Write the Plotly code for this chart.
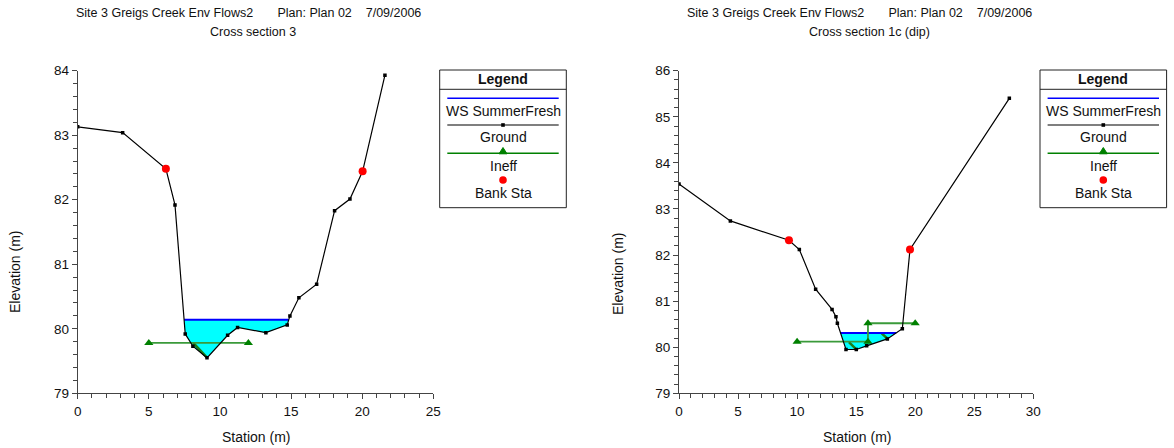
import plotly.graph_objects as go

# ---------------- data ----------------
# Cross section 3
xs3_station = [0.0, 3.16, 6.2, 6.84, 7.56, 8.1, 9.09, 10.54, 11.24, 13.23, 14.73, 14.92, 15.55, 16.8, 18.06, 19.14, 20.03, 21.6]
xs3_elev = [83.13, 83.04, 82.48, 81.92, 79.92, 79.73, 79.55, 79.90, 80.02, 79.94, 80.06, 80.20, 80.48, 80.69, 81.83, 82.01, 82.44, 83.93]
xs3_ws = 80.14
xs3_bank_x = [6.2, 20.03]
xs3_bank_y = [82.48, 82.44]
xs3_ineff_x = [5.0, 12.0]
xs3_ineff_y = [79.78, 79.78]
xs3_hatch_x = [8.12, 9.06]
xs3_hatch_y = [79.78, 79.56]

# Cross section 1c (dip)
xs1c_station = [0.0, 4.35, 9.31, 10.19, 11.57, 12.96, 13.29, 13.41, 14.14, 15.01, 15.89, 17.64, 18.91, 19.56, 27.97]
xs1c_elev = [83.54, 82.74, 82.32, 82.12, 81.26, 80.82, 80.66, 80.52, 79.95, 79.95, 80.03, 80.18, 80.40, 82.12, 85.40]
xs1c_ws = 80.31
xs1c_bank_x = [9.31, 19.56]
xs1c_bank_y = [82.32, 82.12]
xs1c_ineff_x = [10.0, 16.0, 16.0, 20.0]
xs1c_ineff_y = [80.12, 80.12, 80.52, 80.52]
xs1c_hatch_x = [14.39, 14.99, None, 17.16, 17.64]
xs1c_hatch_y = [80.11, 79.96, None, 80.30, 80.19]

title_line1 = "Site 3 Greigs Creek Env Flows2       Plan: Plan 02    7/09/2006"
titles_line2 = ["Cross section 3", "Cross section 1c (dip)"]
legend_labels = ["WS SummerFresh", "Ground", "Ineff", "Bank Sta"]

# ---------------- helpers ----------------
W, H = 1174, 448
FONT = "Liberation Sans, Arial, sans-serif"


def px(x):
    return x / W


def py(y):
    return 1 - y / H


def wet_polygon(st, el, ws):
    i0 = min(range(len(el)), key=lambda i: el[i])
    i = i0
    while i > 0 and el[i - 1] < ws:
        i -= 1
    a, b = i - 1, i
    t = (el[a] - ws) / (el[a] - el[b])
    xl = st[a] + t * (st[b] - st[a])
    left_idx = i
    j = i0
    while j < len(el) - 1 and el[j + 1] < ws:
        j += 1
    a, b = j, j + 1
    t = (ws - el[a]) / (el[b] - el[a])
    xr = st[a] + t * (st[b] - st[a])
    right_idx = j
    px_ = [xl] + st[left_idx:right_idx + 1] + [xr, xl]
    py_ = [ws] + el[left_idx:right_idx + 1] + [ws, ws]
    return px_, py_, xl, xr


fig = go.Figure()

sets = [
    (xs3_station, xs3_elev, xs3_ws, xs3_bank_x, xs3_bank_y, xs3_ineff_x, xs3_ineff_y, xs3_hatch_x, xs3_hatch_y, "x", "y"),
    (xs1c_station, xs1c_elev, xs1c_ws, xs1c_bank_x, xs1c_bank_y, xs1c_ineff_x, xs1c_ineff_y, xs1c_hatch_x, xs1c_hatch_y, "x2", "y2"),
]

for st, el, ws, bx, by, ix, iy, hx, hy, xa, ya in sets:
    fx, fy, xl, xr = wet_polygon(st, el, ws)
    fig.add_trace(go.Scatter(x=fx, y=fy, mode="lines", fill="toself", fillcolor="#00ffff",
                             line=dict(width=0), xaxis=xa, yaxis=ya, showlegend=False, hoverinfo="skip"))
    fig.add_trace(go.Scatter(x=hx, y=hy, mode="lines", line=dict(color="#1a7f1a", width=2.5),
                             xaxis=xa, yaxis=ya, showlegend=False, connectgaps=False))
    fig.add_trace(go.Scatter(x=[xl, xr], y=[ws, ws], mode="lines", line=dict(color="#0000ff", width=2),
                             xaxis=xa, yaxis=ya, showlegend=False, name=legend_labels[0]))
    fig.add_trace(go.Scatter(x=ix, y=iy, mode="lines+markers",
                             line=dict(color="#3a9a3a", width=1.8),
                             marker=dict(symbol="triangle-up", size=8, color="#008000"),
                             xaxis=xa, yaxis=ya, showlegend=False, name=legend_labels[2]))
    fig.add_trace(go.Scatter(x=st, y=el, mode="lines+markers", line=dict(color="black", width=1.2),
                             marker=dict(symbol="square", size=3.5, color="black"),
                             xaxis=xa, yaxis=ya, showlegend=False, name=legend_labels[1]))
    fig.add_trace(go.Scatter(x=bx, y=by, mode="markers", marker=dict(symbol="circle", size=8, color="#ff0000"),
                             xaxis=xa, yaxis=ya, showlegend=False, name=legend_labels[3]))

TICKC = "#444444"
axis_common = dict(
    showgrid=False, zeroline=False, showline=True, linecolor=TICKC, linewidth=1,
    ticks="outside", ticklen=5, tickcolor=TICKC, tickwidth=1,
    tickfont=dict(family=FONT, size=13.5, color="#111111"),
    mirror=False,
)


def minor(d):
    return dict(dtick=d, ticks="outside", ticklen=4, tickcolor=TICKC, tickwidth=1, showgrid=False)


plot_top, plot_bot = 70.7, 393.3
fig.update_layout(
    template="none",
    width=W, height=H, margin=dict(l=0, r=0, t=0, b=0),
    paper_bgcolor="white", plot_bgcolor="white", showlegend=False,
    xaxis=dict(domain=[px(77.7), px(433.3)], range=[0, 25], tick0=0, dtick=5, anchor="y",
               minor=minor(1), **axis_common),
    yaxis=dict(domain=[py(plot_bot), py(plot_top)], range=[79, 84], tick0=79, dtick=1, anchor="x",
               minor=minor(0.2), **axis_common),
    xaxis2=dict(domain=[px(679), px(1033.3)], range=[0, 30], tick0=0, dtick=5, anchor="y2",
                minor=minor(1), **axis_common),
    yaxis2=dict(domain=[py(plot_bot), py(plot_top)], range=[79, 86], tick0=79, dtick=1, anchor="x2",
                minor=minor(0.2), **axis_common),
)

annotations = []
shapes = []


def text(x, y, s, size=12.5, bold=False, angle=0):
    annotations.append(dict(x=px(x), y=py(y), xref="paper", yref="paper", text=(f"<b>{s}</b>" if bold else s),
                            showarrow=False, xanchor="center", yanchor="middle", textangle=angle,
                            font=dict(family=FONT, size=size, color="#111111")))


# Titles
text(248, 13, title_line1.replace(" ", "&nbsp;"), size=12.5)
text(252.5, 32, titles_line2[0], size=12.5)
text(859.7, 13, title_line1.replace(" ", "&nbsp;"), size=12.5)
text(869.7, 32, titles_line2[1], size=12.5)

# Axis titles
text(255.8, 436.7, "Station (m)", size=14)
text(856.7, 436.7, "Station (m)", size=14)
text(15, 272, "Elevation (m)", size=14, angle=-90)
text(618, 274, "Elevation (m)", size=14, angle=-90)

# Legends
for lx0 in (439.7, 1040.0):
    lx1 = lx0 + 126.6
    cx = (lx0 + lx1) / 2
    shapes.append(dict(type="rect", xref="paper", yref="paper", x0=px(lx0), x1=px(lx1), y0=py(70), y1=py(207.7),
                       line=dict(color="#222222", width=1), fillcolor="white"))
    shapes.append(dict(type="line", xref="paper", yref="paper", x0=px(lx0), x1=px(lx1), y0=py(89.3), y1=py(89.3),
                       line=dict(color="#222222", width=1)))
    text(cx, 78.5, "Legend", size=14, bold=True)
    shapes.append(dict(type="line", xref="paper", yref="paper", x0=px(lx0 + 7.6), x1=px(lx1 - 7.6),
                       y0=py(98.3), y1=py(98.3), line=dict(color="#0000ff", width=1.5)))
    text(cx, 110.7, legend_labels[0], size=14)
    shapes.append(dict(type="line", xref="paper", yref="paper", x0=px(lx0 + 7.6), x1=px(lx1 - 7.6),
                       y0=py(125), y1=py(125), line=dict(color="black", width=1.2)))
    shapes.append(dict(type="rect", xref="paper", yref="paper", x0=px(cx - 1.8), x1=px(cx + 1.8),
                       y0=py(126.8), y1=py(123.2), line=dict(width=0), fillcolor="black"))
    text(cx, 137.3, legend_labels[1], size=14)
    shapes.append(dict(type="line", xref="paper", yref="paper", x0=px(lx0 + 7.6), x1=px(lx1 - 7.6),
                       y0=py(153.3), y1=py(153.3), line=dict(color="#008000", width=1.5)))
    tri = f"M {px(cx-4)} {py(153.8)} L {px(cx+4)} {py(153.8)} L {px(cx)} {py(147.5)} Z"
    shapes.append(dict(type="path", xref="paper", yref="paper", path=tri, fillcolor="#008000",
                       line=dict(color="#008000", width=1)))
    text(cx, 166, legend_labels[2], size=14)
    shapes.append(dict(type="circle", xref="paper", yref="paper", x0=px(cx - 3.8), x1=px(cx + 3.8),
                       y0=py(183.8), y1=py(176.2), fillcolor="#ff0000", line=dict(color="#ff0000", width=0)))
    text(cx, 193.3, legend_labels[3], size=14)

fig.update_layout(annotations=annotations, shapes=shapes)
fig.write_html("out.html")
